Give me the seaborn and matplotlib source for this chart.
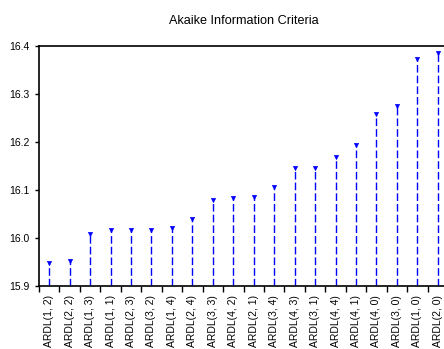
import matplotlib
matplotlib.use("Agg")
import matplotlib.pyplot as plt
import seaborn as sns
import pandas as pd
import numpy as np

models = ["ARDL(1, 2)", "ARDL(2, 2)", "ARDL(1, 3)", "ARDL(1, 1)", "ARDL(2, 3)",
          "ARDL(3, 2)", "ARDL(1, 4)", "ARDL(2, 4)", "ARDL(3, 3)", "ARDL(4, 2)",
          "ARDL(2, 1)", "ARDL(3, 4)", "ARDL(4, 3)", "ARDL(3, 1)", "ARDL(4, 4)",
          "ARDL(4, 1)", "ARDL(4, 0)", "ARDL(3, 0)", "ARDL(1, 0)", "ARDL(2, 0)"]
aic = [15.948, 15.952, 16.009, 16.016, 16.016,
       16.017, 16.021, 16.040, 16.078, 16.082,
       16.085, 16.106, 16.146, 16.146, 16.168,
       16.194, 16.258, 16.274, 16.372, 16.384]
yticks = [15.9, 16.0, 16.1, 16.2, 16.3, 16.4]
title = "Akaike Information Criteria"

sns.set_style("white")
plt.rcParams["font.family"] = ["Liberation Sans", "DejaVu Sans"]

df = pd.DataFrame({"model": models, "aic": aic})

W, H = 444, 349
fig = plt.figure(figsize=(W / 100, H / 100), dpi=100)
left, right, top, bottom = 39, 448, 45.5, 286
ax = fig.add_axes([left / W, 1 - bottom / H, (right - left) / W, (bottom - top) / H])

pos = np.arange(len(models))
ymin = yticks[0]
ax.vlines(pos, ymin, df["aic"], colors="#0000ff", linewidth=1.0,
          linestyles=(0, (5.5, 2.2)))
sns.scatterplot(data=df, x="model", y="aic", marker="v", color="#0000ff",
                s=9, edgecolor="#0000ff", linewidth=0.5, ax=ax, zorder=3)

ax.set_xlim(-0.5, len(models) - 0.5)
ax.set_ylim(yticks[0], yticks[-1])
ax.set_yticks(yticks)
ax.set_yticklabels([f"{v:.1f}" for v in yticks], fontsize=7.5, color="black")

ax.set_xticks(np.arange(len(models) + 1) - 0.5)
ax.set_xticklabels([])
ax.set_xticks(pos, minor=True)
ax.set_xticklabels(models, minor=True, rotation=90, fontsize=7.5, va="top",
                   color="black")
ax.tick_params(axis="x", which="major", direction="out", length=4, width=1,
               color="black", bottom=True)
ax.tick_params(axis="x", which="minor", length=0, pad=6.5)
ax.tick_params(axis="y", direction="out", length=3, width=1, color="black",
               left=True, pad=4)
ax.set_xlabel("")
ax.set_ylabel("")

for s in ["left", "top", "bottom", "right"]:
    ax.spines[s].set_visible(True)
    ax.spines[s].set_color("black")
    ax.spines[s].set_linewidth(1.2)

fig.text(0.5 * (left + right) / W, 1 - 24.5 / H, title, ha="center",
         va="baseline", fontsize=9.1, color="black")

fig.savefig("out.png", dpi=100)
